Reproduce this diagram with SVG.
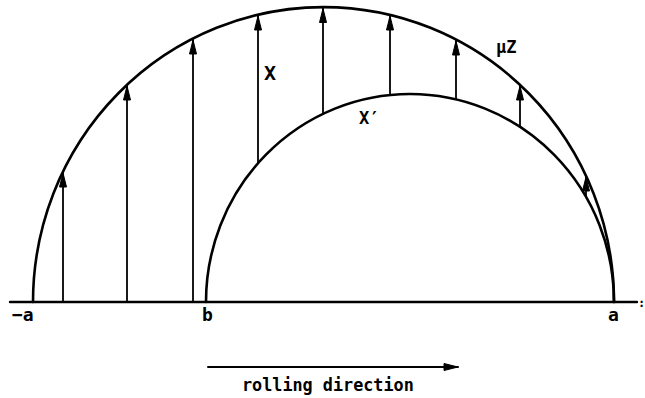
<svg xmlns="http://www.w3.org/2000/svg" width="645" height="398" viewBox="0 0 645 398">
<defs>
<marker id="ah" markerUnits="userSpaceOnUse" markerWidth="20" markerHeight="12" viewBox="-16 -6 18 12" refX="0" refY="0" orient="auto">
<path d="M0,0 L-14,-3.5 L-14,3.5 Z" fill="#000" stroke="#000" stroke-width="1"/>
</marker>
<style>
.ln{stroke:#000;fill:none;stroke-linecap:round}
.arc{stroke-width:2.6}
.v{stroke-width:1.8}
.t{font-family:"DejaVu Sans Mono","Liberation Mono",monospace;font-weight:bold;fill:#000}
</style>
</defs>
<rect width="645" height="398" fill="#fff"/>
<g id="baseline">
<line class="ln" x1="10" y1="302" x2="637" y2="302" stroke-width="2.4"/>
<text class="t" x="638" y="307" font-size="12">:</text>
</g>
<g id="outer-arc">
<path class="ln arc" d="M33,302 A290.5,295 0 0 1 614,302"/>
<text class="t" x="496" y="53" font-size="17">μZ</text>
</g>
<g id="inner-arc">
<path class="ln arc" d="M206,302 A204,208 0 0 1 614,302"/>
<text class="t" x="359" y="124" font-size="17">X′</text>
</g>
<g id="connectors">
<line class="ln v" x1="63" y1="302" x2="63" y2="173" marker-end="url(#ah)"/>
<line class="ln v" x1="127" y1="302" x2="127" y2="86" marker-end="url(#ah)"/>
<line class="ln v" x1="193" y1="302" x2="193" y2="40" marker-end="url(#ah)"/>
<line class="ln v" x1="258" y1="163" x2="258" y2="16" marker-end="url(#ah)"/>
<line class="ln v" x1="323" y1="114" x2="323" y2="8.5" marker-end="url(#ah)"/>
<line class="ln v" x1="390" y1="95" x2="390" y2="16" marker-end="url(#ah)"/>
<line class="ln v" x1="456" y1="99" x2="456" y2="41" marker-end="url(#ah)"/>
<line class="ln v" x1="520" y1="127" x2="520" y2="86" marker-end="url(#ah)"/>
<line class="ln v" x1="586" y1="197" x2="586" y2="177" marker-end="url(#ah)"/>
</g>
<g id="labels">
<text class="t" x="264" y="80" font-size="20">X</text>
<text class="t" x="12" y="321" font-size="18">−a</text>
<text class="t" x="202" y="321" font-size="18">b</text>
<text class="t" x="608" y="321" font-size="18">a</text>
</g>
<g id="rolling-direction">
<line class="ln" x1="208" y1="367" x2="458" y2="367" stroke-width="2" marker-end="url(#ah)"/>
<text class="t" x="242" y="391" font-size="16.8">rolling direction</text>
</g>
</svg>
